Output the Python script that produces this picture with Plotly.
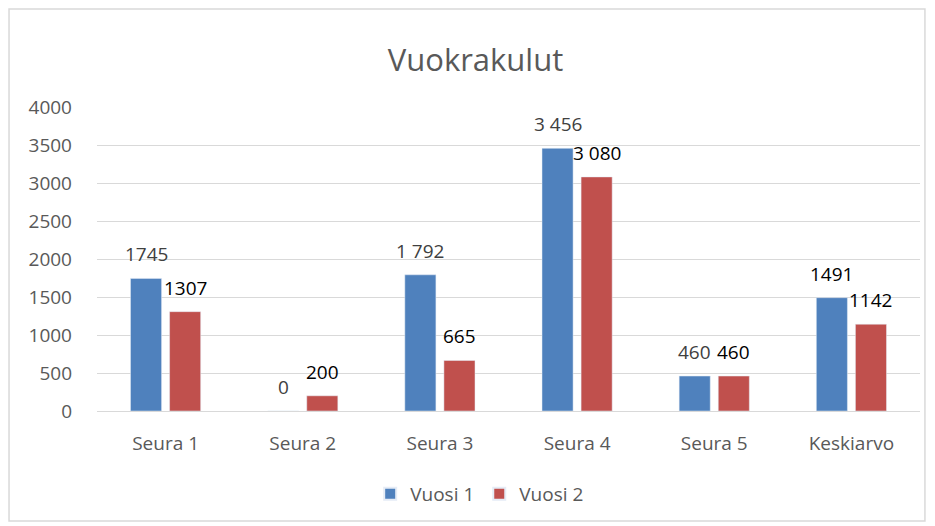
import plotly.graph_objects as go

categories = ["Seura 1", "Seura 2", "Seura 3", "Seura 4", "Seura 5", "Keskiarvo"]
vuosi1 = [1745, 0, 1792, 3456, 460, 1491]
vuosi2 = [1307, 200, 665, 3080, 460, 1142]
labels1 = ["1745", "0", "1 792", "3 456", "460", "1491"]
labels2 = ["1307", "200", "665", "3 080", "460", "1142"]
label_colors1 = ["#404040", "#404040", "#404040", "#404040", "#404040", "#000000"]
label_colors2 = ["#000000"] * 6
y_ticks = [0, 500, 1000, 1500, 2000, 2500, 3000, 3500, 4000]

BLUE = "#4F81BD"
RED = "#C0504D"
FONT = "Open Sans"

fig = go.Figure()
fig.add_trace(go.Bar(name="Vuosi 1", x=categories, y=vuosi1, marker_color=BLUE))
fig.add_trace(go.Bar(name="Vuosi 2", x=categories, y=vuosi2, marker_color=RED))

annotations = []
for cat, v, t, c in zip(categories, vuosi1, labels1, label_colors1):
    annotations.append(dict(x=cat, y=v, text=t, showarrow=False, xshift=-19.5, yshift=24,
                            yanchor="middle", font=dict(family=FONT, size=19, color=c)))
for cat, v, t, c in zip(categories, vuosi2, labels2, label_colors2):
    annotations.append(dict(x=cat, y=v, text=t, showarrow=False, xshift=19.5, yshift=24,
                            yanchor="middle", font=dict(family=FONT, size=19, color=c)))

fig.update_layout(
    width=935, height=526,
    margin=dict(l=89, r=23, t=99, b=123),
    paper_bgcolor="white", plot_bgcolor="white",
    barmode="group", bargap=0.43, bargroupgap=0.205,
    title=dict(text="Vuokrakulut", x=0.5, xanchor="center", y=0.9, yanchor="middle",
               font=dict(family=FONT, size=31, color="#595959")),
    font=dict(family=FONT, color="#595959"),
    xaxis=dict(tickfont=dict(size=19, color="#595959"), showgrid=False, ticks="",
               showline=False, ticklabelstandoff=19),
    yaxis=dict(range=[0, 4000], tickvals=y_ticks, ticktext=[str(v) for v in y_ticks],
               tickfont=dict(size=19, color="#595959"), gridcolor="#D9D9D9", gridwidth=1.3,
               zeroline=True, zerolinecolor="#D9D9D9", zerolinewidth=1.3,
               ticks="", ticklabelstandoff=24, showline=False),
    legend=dict(orientation="h", x=0.465, xanchor="center", y=-0.273, yanchor="middle",
                font=dict(size=19, color="#595959"), itemsizing="constant"),
    annotations=annotations,
    shapes=[dict(type="rect", xref="paper", yref="paper", x0=-0.1069, x1=1.006,
                 y0=-0.362, y1=1.3224, line=dict(color="#D9D9D9", width=1.5),
                 fillcolor="rgba(0,0,0,0)", layer="below")],
)

fig.write_html("out.html")
